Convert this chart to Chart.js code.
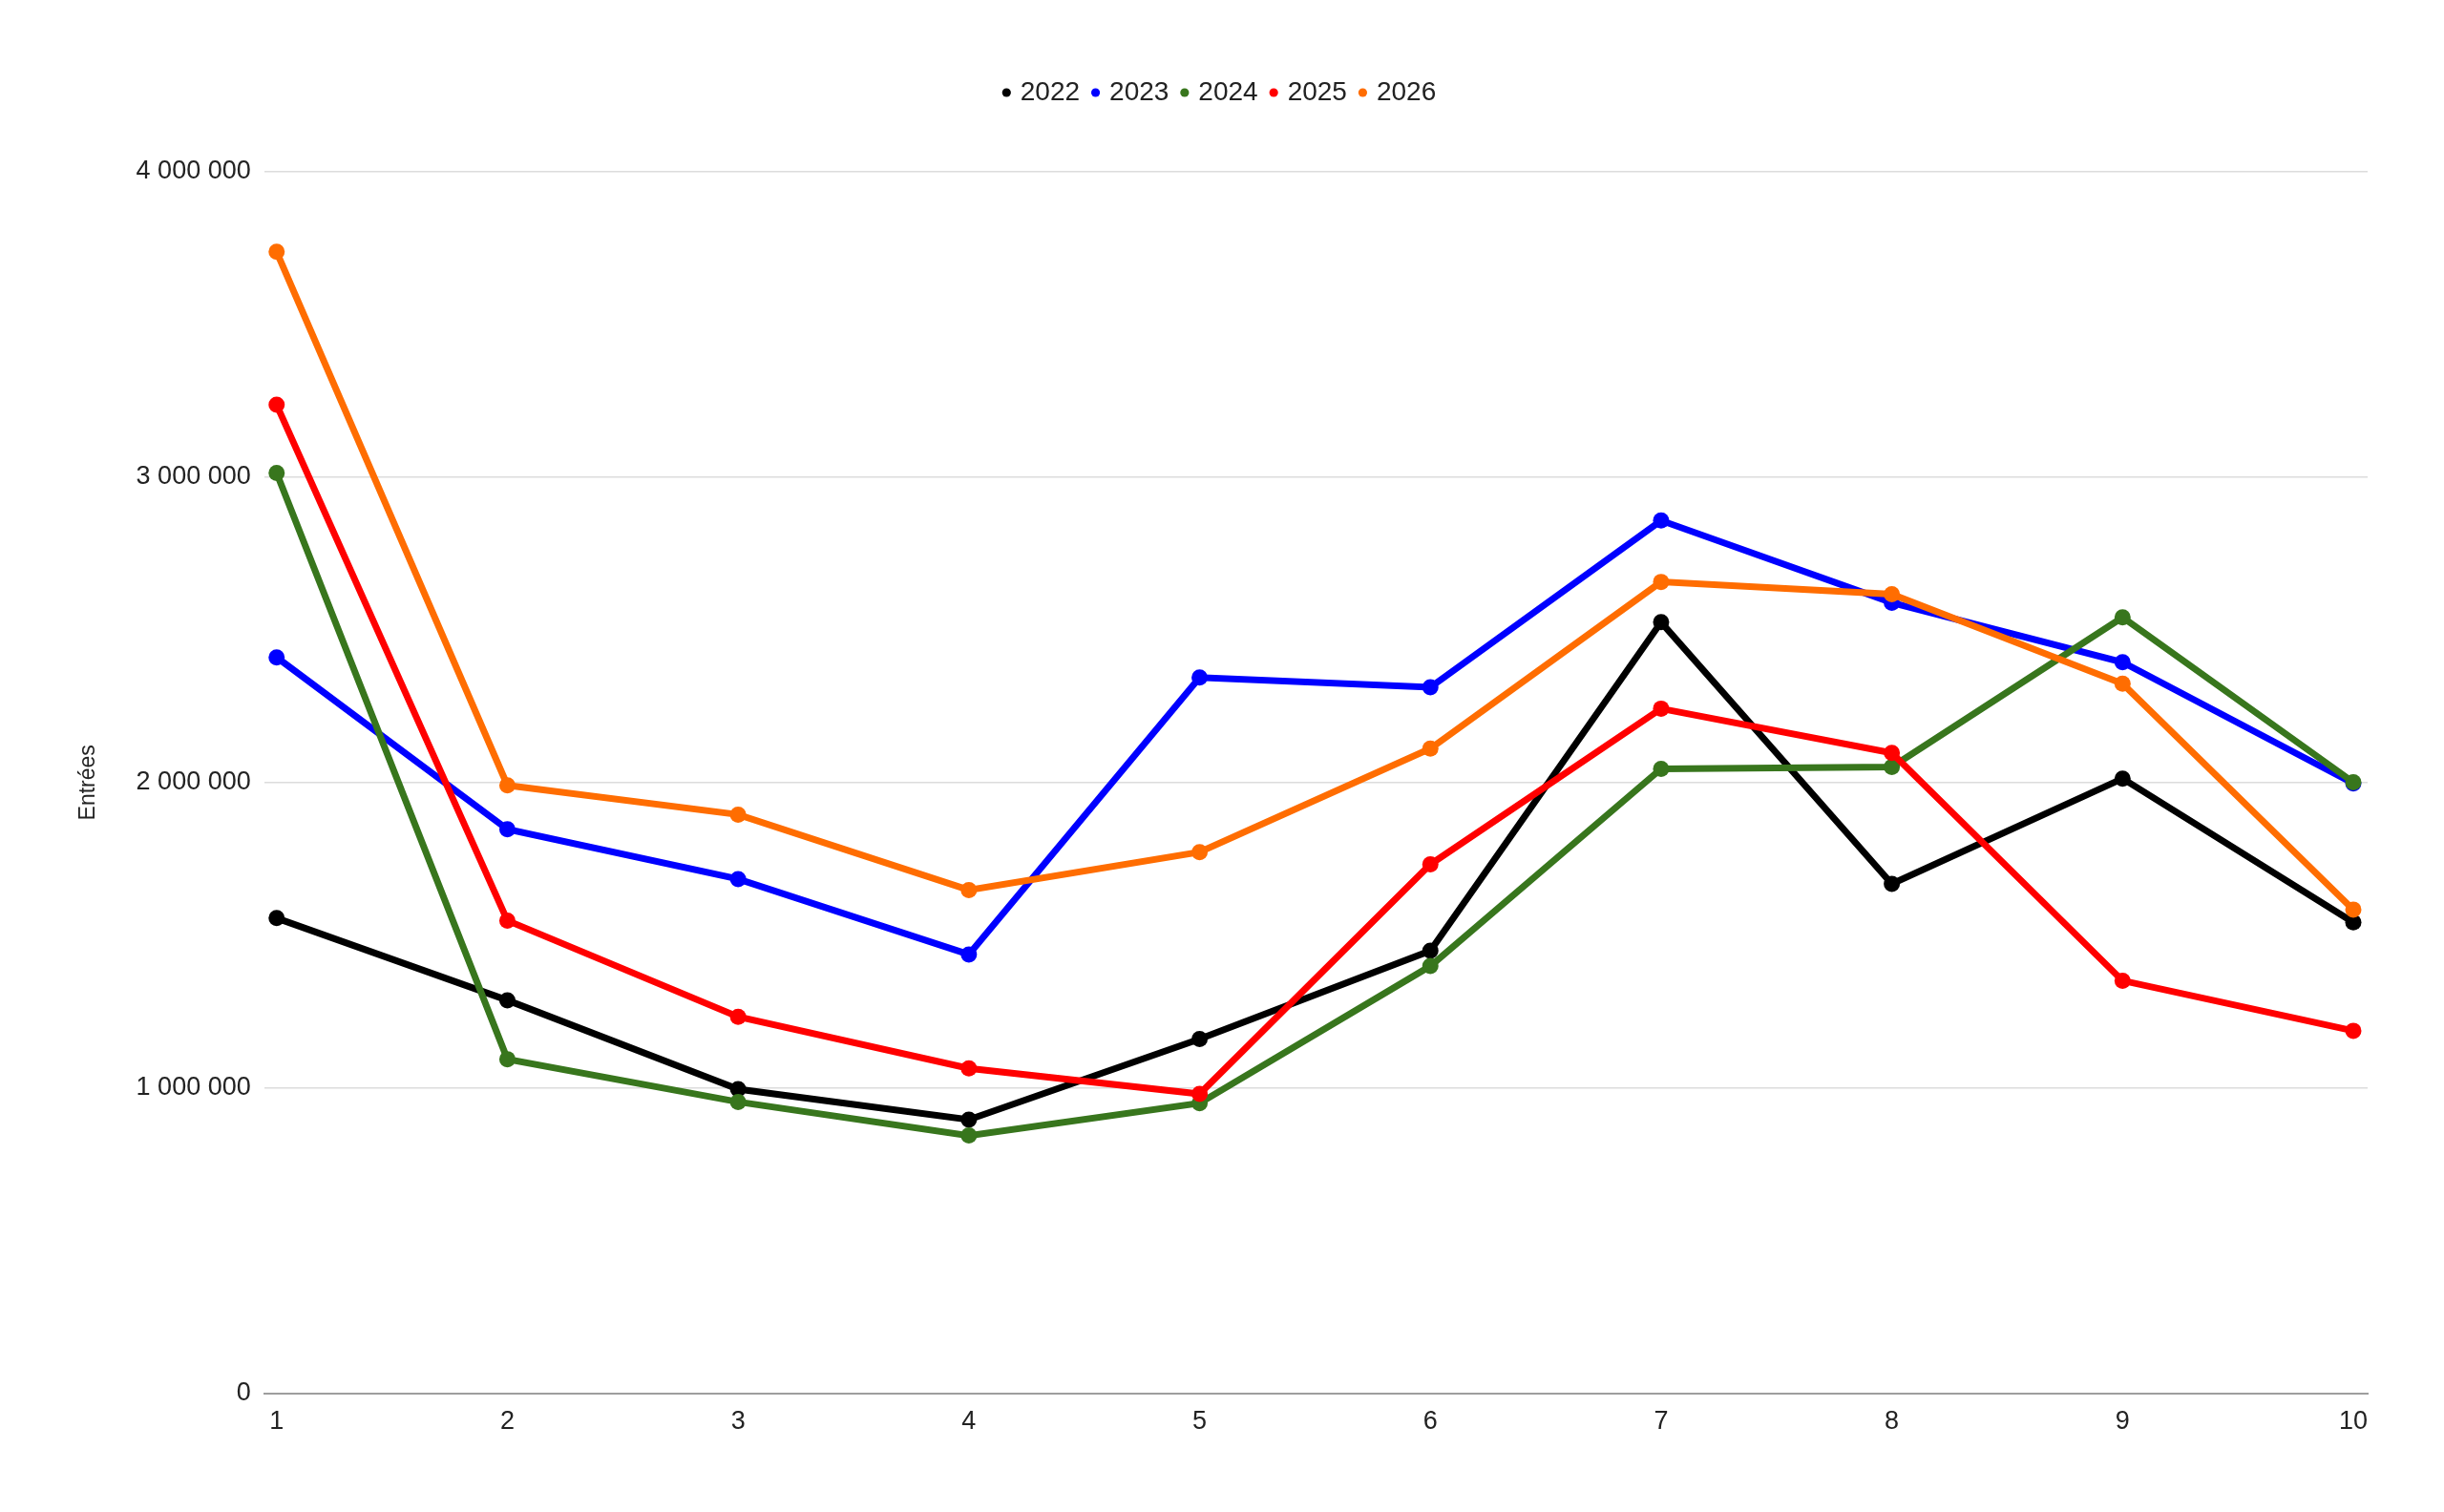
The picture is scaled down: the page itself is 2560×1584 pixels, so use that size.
<!DOCTYPE html>
<html>
<head>
<meta charset="utf-8">
<script src="https://cdn.jsdelivr.net/npm/chart.js@4/dist/chart.umd.min.js"></script>
<style>
  html, body { margin: 0; padding: 0; background: #fff; }
  #wrap { width: 2560px; height: 1584px; }
</style>
</head>
<body>
<div id="wrap"><canvas id="entrees"></canvas></div>
<script>
const categories = [1, 2, 3, 4, 5, 6, 7, 8, 9, 10];
const years = ['2022', '2023', '2024', '2025', '2026'];
const s2022 = [1556000, 1287000, 996000, 896000, 1160000, 1449000, 2525000, 1668000, 2013000, 1542000];
const s2023 = [2410000, 1847000, 1684000, 1437000, 2344000, 2312000, 2858000, 2589000, 2394000, 1997000];
const s2024 = [3014000, 1094000, 954000, 844000, 950000, 1399000, 2045000, 2051000, 2541000, 2001000];
const s2025 = [3237000, 1548000, 1233000, 1064000, 980000, 1732000, 2242000, 2097000, 1351000, 1187000];
const s2026 = [3738000, 1991000, 1895000, 1648000, 1772000, 2111000, 2657000, 2617000, 2324000, 1584000];
const yTicks = [0, 1000000, 2000000, 3000000, 4000000];

const colors = ['#000000', '#0000ff', '#38761d', '#ff0000', '#ff6d01'];
const series = [s2022, s2023, s2024, s2025, s2026];

Chart.defaults.font.family = "'Liberation Sans', Arial, sans-serif";
Chart.defaults.color = '#222';

// push the plot down below the legend
const legendGap = {
    id: 'legendGap',
    beforeInit(chart) {
        const fit = chart.legend.fit;
        chart.legend.fit = function () {
            fit.call(this);
            this.height += 59;
        };
    }
};

function spaced(v) {
    return String(v).replace(/\B(?=(\d{3})+(?!\d))/g, ' ');
}

const datasets = series.map((values, i) => ({
    label: years[i],
    data: values.map((v, j) => ({ x: categories[j], y: v })),
    borderColor: colors[i],
    backgroundColor: colors[i],
    pointBackgroundColor: colors[i],
    pointBorderColor: colors[i],
    borderWidth: 7,
    pointRadius: 8.5,
    pointBorderWidth: 0,
    tension: 0,
    order: series.length - i
}));

new Chart(document.getElementById('entrees'), {
    type: 'line',
    data: { datasets: datasets },
    plugins: [legendGap],
    options: {
        responsive: true,
        maintainAspectRatio: false,
        animation: false,
        layout: { padding: { top: 67, right: 80, bottom: 64, left: 78 } },
        plugins: {
            legend: {
                position: 'top',
                align: 'center',
                labels: {
                    usePointStyle: true,
                    pointStyle: 'circle',
                    boxWidth: 1,
                    boxHeight: 6.5,
                    padding: 16,
                    font: { size: 28 },
                    color: '#222',
                    sort: (a, b) => a.datasetIndex - b.datasetIndex
                }
            },
            tooltip: { enabled: false }
        },
        scales: {
            x: {
                type: 'linear',
                min: 0.946,
                max: 10.062,
                afterBuildTicks: scale => {
                    scale.ticks = categories.map(v => ({ value: v }));
                },
                grid: { display: false, drawTicks: false },
                border: { display: true, color: '#9e9e9e', width: 2 },
                ticks: {
                    padding: 14,
                    font: { size: 27 },
                    color: '#222',
                    autoSkip: false,
                    maxRotation: 0,
                    callback: v => String(v)
                }
            },
            y: {
                min: 0,
                max: 4000000,
                afterBuildTicks: scale => {
                    scale.ticks = yTicks.map(v => ({ value: v }));
                },
                grid: { color: '#dcdcdc', lineWidth: 1.5, drawTicks: false },
                border: { display: false },
                ticks: {
                    padding: 14,
                    font: { size: 27 },
                    color: '#222',
                    callback: v => spaced(v)
                },
                title: {
                    display: true,
                    text: 'Entrées',
                    font: { size: 23 },
                    color: '#222',
                    padding: { top: 1, bottom: 22 }
                }
            }
        }
    }
});
</script>
</body>
</html>
